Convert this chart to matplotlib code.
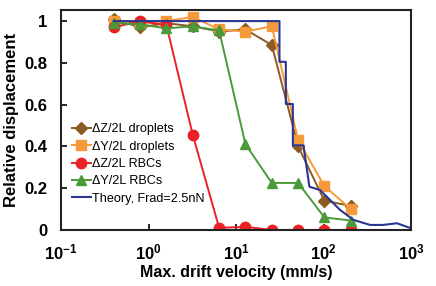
import numpy as np
import matplotlib
matplotlib.use("Agg")
import matplotlib.pyplot as plt

plt.rcParams['font.family'] = ['Liberation Sans', 'DejaVu Sans']
plt.rcParams['mathtext.fontset'] = 'custom'
plt.rcParams['mathtext.rm'] = 'Liberation Sans'
plt.rcParams['mathtext.bf'] = 'Liberation Sans:bold'

# drift velocity (mm/s) of the measured points
velocity = [0.4, 0.8, 1.6, 3.2, 6.4, 12.8, 25.6, 51.2, 102, 205]

z_droplets = [1.01, 0.97, 0.99, 0.975, 0.95, 0.96, 0.885, 0.40, 0.14, 0.115]
y_droplets = [1.00, 0.99, 1.00, 1.02, 0.96, 0.95, 0.975, 0.43, 0.21, 0.10]
z_rbcs = [0.97, 1.00, 0.98, 0.455, 0.01, 0.015, 0.0, 0.0, 0.0, 0.0]
y_rbcs = [0.99, 0.985, 0.965, 0.975, 0.955, 0.41, 0.225, 0.225, 0.06, 0.045]

# theory curve, Frad = 2.5 nN
theory_v = [0.4, 31.3, 31.3, 37, 37, 44.5, 44.5, 58.8, 68.8, 91, 113, 154, 219, 340, 479, 687, 1000]
theory_y = [1.0, 1.0, 0.805, 0.805, 0.603, 0.603, 0.405, 0.405, 0.207, 0.191, 0.152, 0.096, 0.048, 0.024, 0.024, 0.032, 0.008]

xticks = [0.1, 1, 10, 100, 1000]
xticklabels = [r'$\mathbf{10^{-1}}$', r'$\mathbf{10^{0}}$', r'$\mathbf{10^{1}}$',
               r'$\mathbf{10^{2}}$', r'$\mathbf{10^{3}}$']
yticks = [0, 0.2, 0.4, 0.6, 0.8, 1.0]
yticklabels = ['0', '0.2', '0.4', '0.6', '0.8', '1']

fig = plt.figure(figsize=(4.36, 2.86), dpi=100)
ax = fig.add_axes([0.14, 0.196, 0.803, 0.769])

ax.plot(velocity, z_droplets, color='#8c5a23', marker='D', ms=6, lw=1.4, label='ΔZ/2L droplets')
ax.plot(velocity, y_droplets, color='#f59a3a', marker='s', ms=7, lw=1.4, label='ΔY/2L droplets')
ax.plot(velocity, z_rbcs, color='#ec2027', marker='o', ms=7.5, lw=1.4, label='ΔZ/2L RBCs')
ax.plot(velocity, y_rbcs, color='#4a9a3a', marker='^', ms=7.5, lw=1.4, label='ΔY/2L RBCs')
ax.plot(theory_v, theory_y, color='#2b3594', lw=1.5, label='Theory, Frad=2.5nN')

ax.set_xscale('log')
ax.set_xlim(0.1, 1000)
ax.set_ylim(0, 1.053)
ax.set_xticks(xticks)
ax.set_xticklabels(xticklabels)
ax.set_yticks(yticks)
ax.set_yticklabels(yticklabels)
ax.xaxis.set_minor_locator(matplotlib.ticker.NullLocator())
ax.tick_params(direction='in', length=4, width=1.2, labelsize=12)
ax.tick_params(axis='x', pad=9)
ax.tick_params(axis='y', pad=10)
for lbl in ax.get_yticklabels():
    lbl.set_fontweight('bold')
for s in ax.spines.values():
    s.set_linewidth(1.5)
    s.set_color('#222222')

ax.set_xlabel('Max. drift velocity (mm/s)', fontsize=11.5, fontweight='bold', labelpad=2)
ax.set_ylabel('Relative displacement', fontsize=12, fontweight='bold', labelpad=4)

ax.legend(loc='upper left', bbox_to_anchor=(0.005, 0.525), frameon=False, fontsize=9.1,
          handlelength=1.5, handletextpad=0.15, labelspacing=0.42, borderaxespad=0.3)

fig.savefig('out.png', dpi=100)
